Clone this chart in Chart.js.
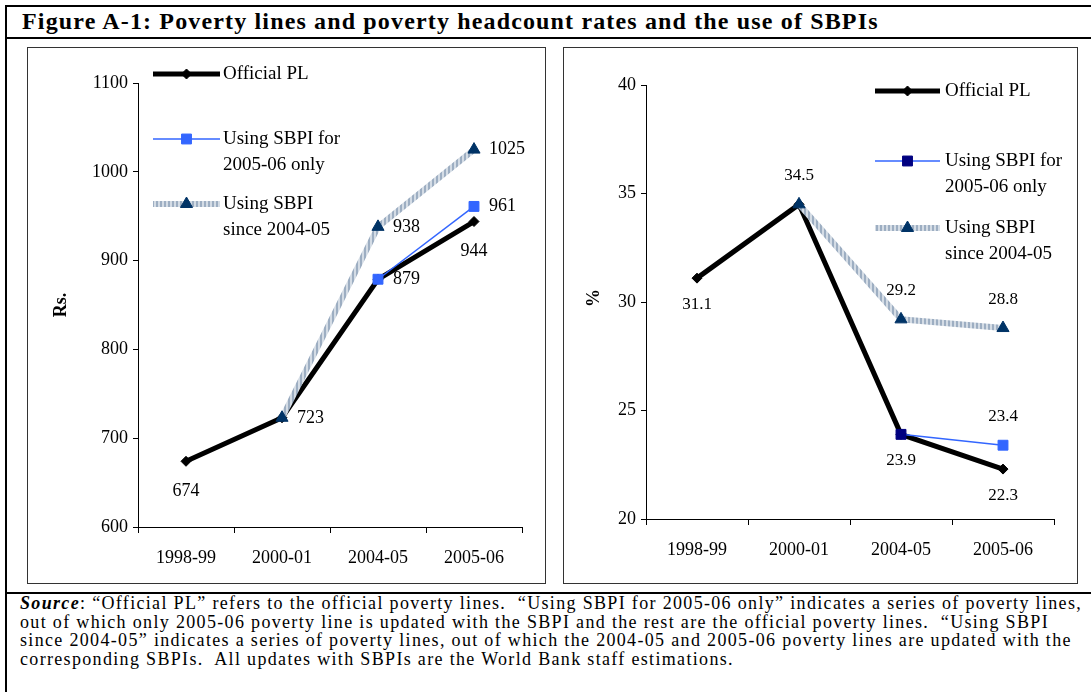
<!DOCTYPE html>
<html>
<head>
<meta charset="utf-8">
<script src="https://cdn.jsdelivr.net/npm/chart.js@4/dist/chart.umd.min.js"></script>
<style>
  body { margin: 0; background: #fff; font-family: "Liberation Serif", "Times New Roman", serif; color: #000; }
  #frame { position: absolute; left: 5px; top: 5px; width: 1100px; height: 700px; border-left: 2px solid #000; border-top: 2px solid #000; }
  #title { position: absolute; left: 22px; top: 6px; height: 30px; line-height: 30px; font-weight: bold; font-size: 24px; letter-spacing: 1.15px; white-space: nowrap; }
  #titleRule { position: absolute; left: 5px; top: 37px; width: 1100px; height: 0; border-top: 2px solid #000; }
  .panel { position: absolute; top: 47px; height: 537px; box-sizing: border-box; border: 1px solid #333; }
  #panelL { left: 27px; width: 519px; }
  #panelR { left: 563px; width: 515px; }
  .panel canvas { display: block; }
  #srcRule { position: absolute; left: 5px; top: 592px; width: 1100px; height: 0; border-top: 2px solid #000; }
  #source { position: absolute; left: 20px; top: 594px; font-size: 18px; letter-spacing: 1.33px; line-height: 18.5px; white-space: nowrap; }
</style>
</head>
<body>
<div id="frame"></div>
<div id="title">Figure A-1: Poverty lines and poverty headcount rates and the use of SBPIs</div>
<div id="titleRule"></div>
<div class="panel" id="panelL"><canvas id="chartRs" width="517" height="535"></canvas></div>
<div class="panel" id="panelR"><canvas id="chartPct" width="513" height="535"></canvas></div>
<div id="srcRule"></div>
<div id="source"><b><i>Source</i></b>: “Official PL” refers to the official poverty lines.&nbsp; “Using SBPI for 2005-06 only” indicates a series of poverty lines,<br>out of which only 2005-06 poverty line is updated with the SBPI and the rest are the official poverty lines.&nbsp; “Using SBPI<br>since 2004-05” indicates a series of poverty lines, out of which the 2004-05 and 2005-06 poverty lines are updated with the<br>corresponding SBPIs.&nbsp; All updates with SBPIs are the World Bank staff estimations.</div>

<script>
// data
const years = ['1998-99', '2000-01', '2004-05', '2005-06'];
const seriesNames = ['Official PL', 'Using SBPI for 2005-06 only', 'Using SBPI since 2004-05'];

// left panel: poverty lines (Rs.)
const rsOfficial = [674, 723, 879, 944];
const rsSbpiOnly = [null, null, 879, 961];
const rsSbpiSince = [null, 723, 938, 1025];
const rsTicks = [600, 700, 800, 900, 1000, 1100];

// right panel: headcount rates (%)
const pctOfficial = [31.1, 34.5, 23.9, 22.3];
const pctSbpiOnly = [null, null, 23.9, 23.4];
const pctSbpiSince = [null, 34.5, 29.2, 28.8];
const pctTicks = [20, 25, 30, 35, 40];

const FONT = '"Liberation Serif", "Times New Roman", serif';
const BLUE = '#3366FF';
const NAVY = '#003366';

// hatched grey stroke for the "since 2004-05" line
function hatch() {
    const c = document.createElement('canvas');
    c.width = 4; c.height = 4;
    const g = c.getContext('2d');
    g.fillStyle = '#D4DCE5';
    g.fillRect(0, 0, 4, 4);
    g.fillStyle = '#9DAEC2';
    g.fillRect(0, 0, 2, 4);
    return g.createPattern(c, 'repeat');
}
const greyStroke = hatch();

// data labels, legend and y title drawn on top
const overlay = {
    id: 'overlay',
    afterDraw(chart, args, o) {
        const ctx = chart.ctx;
        ctx.save();
        ctx.fillStyle = '#000';
        ctx.textBaseline = 'middle';

        // value labels
        ctx.font = o.labelSize + 'px ' + FONT;
        chart.data.datasets.forEach((ds, i) => {
            const meta = chart.getDatasetMeta(i);
            (ds.labelPos || []).forEach((pos, j) => {
                if (!pos || ds.data[j] == null) return;
                const pt = meta.data[j];
                let x = pt.x, y = pt.y;
                if (pos === 'right') {
                    ctx.textAlign = 'left';
                    x += o.rightGap;
                } else {
                    ctx.textAlign = 'center';
                    y += pos === 'above' ? -o.aboveGap : o.belowGap;
                }
                ctx.fillText(o.fmt(ds.data[j]), x, y);
            });
        });

        // legend
        const lg = o.legend;
        lg.rows.forEach((row, i) => {
            const ds = chart.data.datasets[i];
            ctx.strokeStyle = ds.borderColor;
            ctx.lineWidth = ds.borderWidth;
            ctx.beginPath();
            ctx.moveTo(lg.x0, row.y);
            ctx.lineTo(lg.x1, row.y);
            ctx.stroke();
            ctx.fillStyle = row.marker;
            ctx.strokeStyle = row.marker;
            ctx.lineWidth = 1;
            Chart.helpers.drawPoint(ctx, {
                pointStyle: ds.pointStyle, radius: ds.pointRadius, rotation: 0, borderWidth: 1
            }, (lg.x0 + lg.x1) / 2, row.y);
            ctx.fillStyle = '#000';
            ctx.textAlign = 'left';
            ctx.font = lg.size + 'px ' + FONT;
            row.text.forEach((t, k) => ctx.fillText(t, lg.textX, row.y + k * lg.lineGap));
        });

        // y axis title
        ctx.translate(o.yTitle.x, o.yTitle.y);
        ctx.rotate(-Math.PI / 2);
        ctx.textAlign = 'center';
        ctx.font = 'bold 18px ' + FONT;
        ctx.fillText(o.yTitle.text, 0, 0);
        ctx.restore();
    }
};

function makeChart(id, sets, ticks, opt) {
    const datasets = [
        {
            label: seriesNames[0], data: sets[0], order: 3,
            borderColor: '#000', borderWidth: 5, backgroundColor: '#000',
            pointStyle: 'rectRot', pointRadius: 5, pointBorderWidth: 1,
            pointBackgroundColor: '#000', pointBorderColor: '#000',
            labelPos: opt.posOfficial
        },
        {
            label: seriesNames[1], data: sets[1], order: 2,
            borderColor: BLUE, borderWidth: 1.5, backgroundColor: BLUE,
            pointStyle: 'rect', pointRadius: 7, pointBorderWidth: 1,
            pointBackgroundColor: opt.squareColors, pointBorderColor: opt.squareColors,
            labelPos: opt.posOnly
        },
        {
            label: seriesNames[2], data: sets[2], order: 1,
            borderColor: greyStroke, borderWidth: 6, backgroundColor: NAVY,
            pointStyle: 'triangle', pointRadius: 7, pointBorderWidth: 1,
            pointBackgroundColor: NAVY, pointBorderColor: NAVY,
            labelPos: opt.posSince
        }
    ];

    return new Chart(document.getElementById(id), {
        type: 'line',
        data: { labels: years, datasets: datasets },
        plugins: [overlay],
        options: {
            responsive: false,
            animation: false,
            events: [],
            layout: { padding: { left: 0, right: opt.padRight, top: opt.padTop, bottom: 0 } },
            plugins: {
                legend: { display: false },
                tooltip: { enabled: false },
                overlay: opt.overlay
            },
            scales: {
                x: {
                    type: 'category',
                    offset: true,
                    grid: { offset: true, drawOnChartArea: false, tickLength: 6, color: '#000' },
                    border: { color: '#000', width: 1 },
                    ticks: { color: '#000', padding: 14, maxRotation: 0, font: { family: FONT, size: 18 } },
                    afterFit: s => { s.height = opt.xHeight; }
                },
                y: {
                    min: ticks[0],
                    max: ticks[ticks.length - 1],
                    afterBuildTicks: s => { s.ticks = ticks.map(v => ({ value: v })); },
                    grid: { drawOnChartArea: false, tickLength: 5, color: '#000' },
                    border: { color: '#000', width: 1 },
                    ticks: {
                        color: '#000', padding: 5, font: { family: FONT, size: 18 },
                        callback: v => String(v)
                    },
                    afterFit: s => { s.width = opt.yWidth; }
                }
            }
        }
    });
}

function drawAll() {
    makeChart('chartRs', [rsOfficial, rsSbpiOnly, rsSbpiSince], rsTicks, {
        padRight: 23, padTop: 35, xHeight: 56, yWidth: 110,
        squareColors: BLUE,
        posOfficial: ['below', 'right', 'right', 'below'],
        posOnly: [null, null, null, 'right'],
        posSince: [null, null, 'right', 'right'],
        overlay: {
            labelSize: 18, rightGap: 15, aboveGap: 29, belowGap: 30,
            fmt: v => String(v),
            yTitle: { text: 'Rs.', x: 33, y: 257 },
            legend: {
                x0: 125, x1: 192, textX: 195, size: 19, lineGap: 26,
                rows: [
                    { y: 26, marker: '#000', text: ['Official PL'] },
                    { y: 91, marker: BLUE, text: ['Using SBPI for', '2005-06 only'] },
                    { y: 156, marker: NAVY, text: ['Using SBPI', 'since 2004-05'] }
                ]
            }
        }
    });

    makeChart('chartPct', [pctOfficial, pctSbpiOnly, pctSbpiSince], pctTicks, {
        padRight: 23, padTop: 37, xHeight: 64, yWidth: 82,
        squareColors: [BLUE, BLUE, '#000080', BLUE],
        posOfficial: ['below', 'above', 'below', 'below'],
        posOnly: [null, null, null, 'above'],
        posSince: [null, null, 'above', 'above'],
        overlay: {
            labelSize: 17, rightGap: 15, aboveGap: 29, belowGap: 26,
            fmt: v => v.toFixed(1),
            yTitle: { text: '%', x: 30, y: 250 },
            legend: {
                x0: 311, x1: 376, textX: 381, size: 19, lineGap: 26,
                rows: [
                    { y: 43, marker: '#000', text: ['Official PL'] },
                    { y: 113, marker: '#000080', text: ['Using SBPI for', '2005-06 only'] },
                    { y: 180, marker: NAVY, text: ['Using SBPI', 'since 2004-05'] }
                ]
            }
        }
    });
}

// make sure the serif face is ready before the canvases use it
Promise.all([
    document.fonts.load('18px "Liberation Serif"'),
    document.fonts.load('bold 18px "Liberation Serif"')
]).then(drawAll, drawAll);
</script>
</body>
</html>
